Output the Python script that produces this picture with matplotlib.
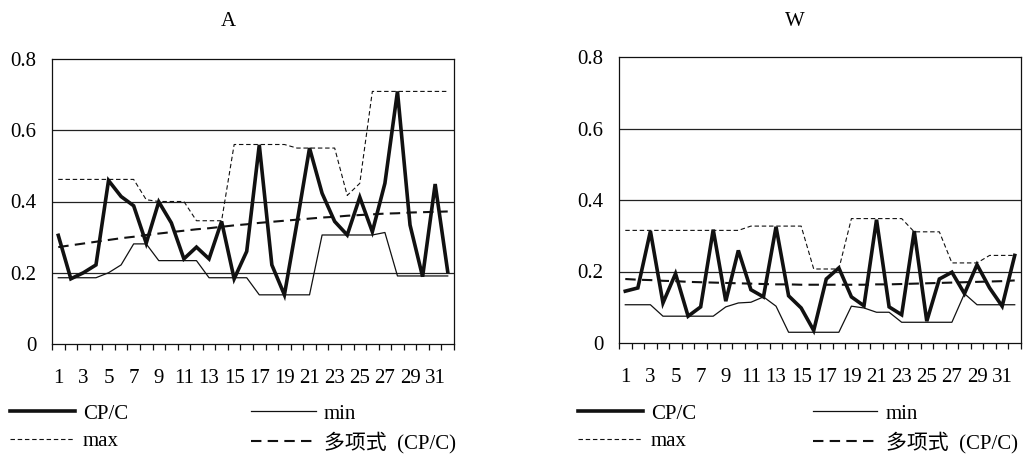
import numpy as np
import matplotlib
matplotlib.use("Agg")
import matplotlib.pyplot as plt

# --- DATA ---
x = list(range(1, 33))
xtick_labels = [str(i) for i in range(1, 32, 2)]

a_cpc = [0.305, 0.183, 0.200, 0.222, 0.459, 0.414, 0.388, 0.283, 0.399, 0.340,
         0.239, 0.272, 0.239, 0.344, 0.183, 0.260, 0.559, 0.222, 0.138, 0.340,
         0.550, 0.423, 0.344, 0.306, 0.412, 0.315, 0.451, 0.709, 0.334, 0.189,
         0.449, 0.203]
a_min = [0.186, 0.186, 0.186, 0.186, 0.200, 0.222, 0.281, 0.281, 0.234, 0.234,
         0.234, 0.234, 0.186, 0.186, 0.186, 0.186, 0.138, 0.138, 0.138, 0.138,
         0.138, 0.306, 0.306, 0.306, 0.306, 0.306, 0.313, 0.191, 0.191, 0.191,
         0.191, 0.191]
a_max = [0.462, 0.462, 0.462, 0.462, 0.462, 0.462, 0.462, 0.405, 0.400, 0.400,
         0.400, 0.346, 0.346, 0.346, 0.560, 0.560, 0.560, 0.560, 0.560, 0.550,
         0.550, 0.550, 0.550, 0.417, 0.451, 0.709, 0.709, 0.709, 0.709, 0.709,
         0.709, 0.709]
a_trend = [0.272, 0.277, 0.282, 0.287, 0.292, 0.297, 0.301, 0.306, 0.310, 0.314,
           0.318, 0.322, 0.325, 0.329, 0.333, 0.336, 0.340, 0.343, 0.346, 0.349,
           0.352, 0.355, 0.357, 0.360, 0.362, 0.364, 0.366, 0.367, 0.369, 0.370,
           0.371, 0.372]

w_cpc = [0.145, 0.154, 0.313, 0.112, 0.194, 0.075, 0.101, 0.317, 0.117, 0.259,
         0.149, 0.129, 0.325, 0.132, 0.098, 0.035, 0.179, 0.210, 0.129, 0.104,
         0.345, 0.101, 0.079, 0.313, 0.061, 0.179, 0.198, 0.138, 0.219, 0.154,
         0.103, 0.245]
w_min = [0.107, 0.107, 0.107, 0.075, 0.075, 0.075, 0.075, 0.075, 0.101, 0.112,
         0.114, 0.129, 0.103, 0.030, 0.030, 0.030, 0.030, 0.030, 0.103, 0.098,
         0.086, 0.086, 0.058, 0.058, 0.058, 0.058, 0.058, 0.138, 0.107, 0.107,
         0.107, 0.107]
w_max = [0.315, 0.315, 0.315, 0.315, 0.315, 0.315, 0.315, 0.315, 0.315, 0.315,
         0.327, 0.327, 0.327, 0.327, 0.327, 0.207, 0.207, 0.207, 0.348, 0.348,
         0.348, 0.348, 0.348, 0.311, 0.311, 0.311, 0.224, 0.224, 0.224, 0.245,
         0.245, 0.245]
w_trend = [0.179, 0.177, 0.176, 0.174, 0.173, 0.171, 0.170, 0.169, 0.168, 0.167,
           0.166, 0.165, 0.164, 0.164, 0.163, 0.163, 0.163, 0.163, 0.163, 0.163,
           0.164, 0.164, 0.165, 0.166, 0.167, 0.168, 0.169, 0.170, 0.171, 0.172,
           0.173, 0.175]

labels = ["CP/C", "min", "max", "多项式  (CP/C)"]

# --- STYLE ---
plt.rcParams['font.family'] = ['Liberation Serif', 'Noto Sans CJK SC']
FS = 15

fig = plt.figure(figsize=(10.25, 4.55), dpi=100)
W, H = 1025, 455


def px_axes(l, t, r, b):
    return fig.add_axes([l / W, 1 - b / H, (r - l) / W, (b - t) / H])


def draw_panel(ax, cpc, mn, mx, trend):
    ax.set_ylim(0, 0.8)
    ax.set_xlim(0.5, 32.5)
    for v in [0.2, 0.4, 0.6]:
        ax.axhline(v, color="#222222", lw=0.9, zorder=1)
    l_cpc, = ax.plot(x, cpc, color="#111111", lw=2.6, solid_joinstyle="miter", zorder=4)
    l_min, = ax.plot(x, mn, color="#111111", lw=0.9, zorder=3)
    l_max, = ax.plot(x, mx, color="#111111", lw=0.8, dashes=(4, 2.5), zorder=3)
    l_tr, = ax.plot(x, trend, color="#111111", lw=1.5, dashes=(5, 3), zorder=3)
    for s in ax.spines.values():
        s.set_color("#111111")
        s.set_linewidth(0.9)
    ax.set_yticks([0, 0.2, 0.4, 0.6, 0.8])
    ax.set_yticklabels(["0", "0.2", "0.4", "0.6", "0.8"])
    ax.tick_params(axis="y", length=0, pad=11, labelsize=FS)
    ax.set_xticks(range(1, 33, 2))
    ax.set_xticklabels(xtick_labels)
    ax.set_xticks(np.arange(0.5, 33, 1), minor=True)
    ax.tick_params(axis="x", which="major", length=0, pad=18, labelsize=FS)
    ax.tick_params(axis="x", which="minor", length=4, width=0.9, direction="out", color="#111111")
    return [l_cpc, l_max, l_min, l_tr]


ax_a = px_axes(52, 59, 454, 344)
ax_w = px_axes(619, 57, 1021, 343)

h_a = draw_panel(ax_a, a_cpc, a_min, a_max, a_trend)
h_w = draw_panel(ax_w, w_cpc, w_min, w_max, w_trend)

fig.text(228 / W, 1 - 21 / H, "A", ha="center", va="center", fontsize=FS)
fig.text(795 / W, 1 - 21 / H, "W", ha="center", va="center", fontsize=FS)

leg_labels = [labels[0], labels[2], labels[1], labels[3]]
for ax, h, lx, cs in [(ax_a, h_a, 10, 5.9), (ax_w, h_w, 578, 5.6)]:
    ax.legend(h, leg_labels, ncol=2, loc="upper left",
              bbox_to_anchor=(lx / W, 1 - 404 / H), bbox_transform=fig.transFigure,
              frameon=False, fontsize=FS, borderaxespad=0, borderpad=0,
              handlelength=3.1, handletextpad=0.4, columnspacing=cs,
              labelspacing=0.4)

fig.savefig("out.png", dpi=100, facecolor="white")
